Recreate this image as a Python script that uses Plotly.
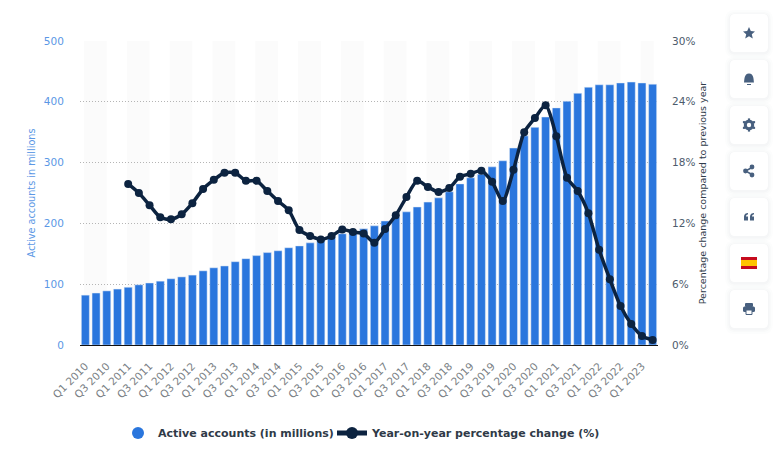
import plotly.graph_objects as go

years = list(range(2010, 2024))
quarters = [f"Q{q} {y}" for y in years for q in (1, 2, 3, 4)][:54]
accounts = [82, 85.5, 89, 92, 95, 99, 102, 105, 109, 112, 115, 122, 127, 130, 137, 142, 147, 152, 155, 160,
            163, 168, 173, 178, 183, 187, 191, 196, 204, 210, 219, 227, 235, 242, 252, 265, 275, 281, 293, 303,
            324, 344, 358, 375, 390, 401, 414, 424, 428, 428, 431, 432.5, 431, 429]
yoy = [None, None, None, None, 15.9, 15.0, 13.8, 12.6, 12.4, 12.9, 14.0, 15.4, 16.3, 17.0, 17.0, 16.2, 16.2, 15.2,
       14.2, 13.3, 11.35, 10.76, 10.4, 10.76, 11.4, 11.15, 11.0, 10.1, 11.45, 12.8, 14.6, 16.2, 15.6, 15.1, 15.5,
       16.6, 16.9, 17.2, 16.1, 14.2, 17.3, 21.0, 22.4, 23.65, 20.6, 16.5, 15.2, 13.0, 9.4, 6.5, 3.85, 2.07, 0.89, 0.5]
tick_labels = quarters[::2]
left_ticks = [0, 100, 200, 300, 400, 500]
right_ticks = [0, 6, 12, 18, 24, 30]

W, H = 778, 460
ML, MR, MT, MB = 80, 120, 41, 115
BLUE, NAVY = "#2a76dd", "#0c2340"

fig = go.Figure()
fig.add_bar(x=quarters, y=accounts, name="Active accounts (in millions)", marker_color=BLUE,
            width=0.75, showlegend=False, yaxis="y")
fig.add_scatter(x=[None], y=[None], mode="markers", name="Active accounts (in millions)",
                marker=dict(color=BLUE, size=13, symbol="circle"), legend="legend")
fig.add_scatter(x=quarters, y=yoy, mode="lines+markers", name="Year-on-year percentage change (%)", yaxis="y2",
                line=dict(color=NAVY, width=3.5, shape="spline", smoothing=0.7),
                marker=dict(color=NAVY, size=8), connectgaps=False, legend="legend2")

def fx(x): return (x - ML) / (W - ML - MR)
def fy(y): return 1 - (y - MT) / (H - MT - MB)

def pshape(d, **kw):
    fig.add_shape(type="path", path=d, xref="paper", yref="paper", layer="above", **kw)

def pth(cmds):
    out = []
    for c in cmds:
        if isinstance(c, str):
            out.append(c)
        else:
            out.append(f"{fx(c[0]):.5f},{fy(c[1]):.5f}")
    return " ".join(out)

def rrect(x0, y0, x1, y1, r):
    return pth(["M", (x0 + r, y0), "L", (x1 - r, y0), "Q", (x1, y0), (x1, y0 + r), "L", (x1, y1 - r), "Q", (x1, y1), (x1 - r, y1),
                "L", (x0 + r, y1), "Q", (x0, y1), (x0, y1 - r), "L", (x0, y0 + r), "Q", (x0, y0), (x0 + r, y0), "Z"])

# alternating background bands
for k in range(0, 54, 4):
    fig.add_shape(type="rect", xref="x", yref="paper", x0=k - 0.125, x1=min(k + 2, 53.1), y0=0, y1=1,
                  fillcolor="#fbfbfb", line_width=0, layer="below")

# side toolbar
ICON = "#48607f"
tops = [14, 60, 106, 152, 198, 244, 290]
for t in tops:
    for grow, op in ((5, 0.012), (3, 0.016), (1.5, 0.02)):
        pshape(rrect(730 - grow, t - grow + 1, 768 + grow, t + 38 + grow + 1, 5 + grow), fillcolor=f"rgba(40,60,90,{op})", line_width=0)
    pshape(rrect(730, t, 768, t + 38, 5), fillcolor="white", line_width=0)

cx = 749
c = tops[0] + 19
star = [(0, -6), (1.8, -2), (6, -1.6), (2.8, 1.2), (3.8, 5.5), (0, 3.2), (-3.8, 5.5), (-2.8, 1.2), (-6, -1.6), (-1.8, -2)]
star_cmds = ["M", (cx + star[0][0], c + star[0][1])]
for a, b in star[1:]:
    star_cmds += ["L", (cx + a, c + b)]
pshape(pth(star_cmds + ["Z"]), fillcolor=ICON, line_width=0)

c = tops[1] + 19
pshape(pth(["M", (cx - 5, c + 3.5), "C", (cx - 4.5, c + 1), (cx - 5, c - 5.5), (cx, c - 5.5), "C", (cx + 5, c - 5.5), (cx + 4.5, c + 1), (cx + 5, c + 3.5), "Z"]), fillcolor=ICON, line_width=0)
pshape(pth(["M", (cx - 2, c + 5), "L", (cx + 2, c + 5), "L", (cx + 2, c + 6), "L", (cx - 2, c + 6), "Z"]), fillcolor=ICON, line_width=0)

c = tops[2] + 19
pshape(pth(["M", (cx - 3.7, c), "C", (cx - 3.7, c - 5), (cx + 3.7, c - 5), (cx + 3.7, c), "C", (cx + 3.7, c + 5), (cx - 3.7, c + 5), (cx - 3.7, c), "Z"]),
       fillcolor="white", line=dict(color=ICON, width=3))
for a, b in [(0, -5.5), (0, 5.5), (-5, -2.8), (5, -2.8), (-5, 2.8), (5, 2.8)]:
    pshape(pth(["M", (cx + a - 1.1, c + b - 1.1), "L", (cx + a + 1.1, c + b - 1.1), "L", (cx + a + 1.1, c + b + 1.1), "L", (cx + a - 1.1, c + b + 1.1), "Z"]), fillcolor=ICON, line_width=0)

c = tops[3] + 19
pshape(pth(["M", (cx + 3, c - 3.5), "L", (cx - 3.5, c), "L", (cx + 3, c + 3.5)]), line=dict(color=ICON, width=1.5))
for a, b, r in [(3, -4, 2.4), (-3.5, 0, 2.4), (3, 4, 2.4)]:
    fig.add_shape(type="circle", xref="paper", yref="paper", x0=fx(cx + a - r), x1=fx(cx + a + r), y0=fy(c + b + r), y1=fy(c + b - r),
                  fillcolor=ICON, line_width=0, layer="above")

c = tops[4] + 19
for a in (-5, 1):
    pshape(pth(["M", (cx + a, c + 3.5), "L", (cx + a, c - 0.5), "C", (cx + a, c - 3), (cx + a + 2, c - 4), (cx + a + 4, c - 4), "L", (cx + a + 4, c - 2.5),
                "C", (cx + a + 3, c - 2.5), (cx + a + 2, c - 2), (cx + a + 2, c - 0.5), "L", (cx + a + 4, c - 0.5), "L", (cx + a + 4, c + 3.5), "Z"]),
           fillcolor=ICON, line_width=0)

c = tops[5] + 19
for y0, y1, col in [(-6, -3, "#c60b1e"), (-3, 3, "#ffc400"), (3, 6, "#c60b1e")]:
    pshape(pth(["M", (cx - 8, c + y0), "L", (cx + 8, c + y0), "L", (cx + 8, c + y1), "L", (cx - 8, c + y1), "Z"]), fillcolor=col, line_width=0)

c = tops[6] + 19
pshape(rrect(cx - 6, c - 2.5, cx + 6, c + 3, 1.5), fillcolor=ICON, line_width=0)
pshape(rrect(cx - 4, c - 6, cx + 4, c - 2, 1), fillcolor=ICON, line_width=0)
pshape(pth(["M", (cx - 3, c + 1), "L", (cx + 3, c + 1), "L", (cx + 3, c + 5.5), "L", (cx - 3, c + 5.5), "Z"]), fillcolor="white", line=dict(color=ICON, width=1))

FONT = "DejaVu Sans"
CLEAR = "rgba(0,0,0,0)"
legend_font = dict(size=11, color="#2f3a47", weight=600)
fig.update_layout(
    width=W, height=H, autosize=False,
    margin=dict(l=ML, r=MR, t=MT, b=MB, pad=0),
    paper_bgcolor="white", plot_bgcolor=CLEAR,
    font=dict(family=FONT, size=10, color="#5c6672"),
    xaxis=dict(type="category", categoryorder="array", categoryarray=quarters, tickmode="array",
               tickvals=tick_labels, ticktext=tick_labels, tickangle=-45, range=[-0.5, 53.5],
               showgrid=False, showline=True, linecolor="#111111", linewidth=1, ticks="outside", ticklen=10, tickcolor=CLEAR,
               tickfont=dict(size=10.5, color="#7a7f85"), automargin=False),
    yaxis=dict(range=[0, 500], tickvals=left_ticks, showgrid=True, griddash="1px,2px", gridcolor="#b5b5b5", gridwidth=1,
               zeroline=False, tickfont=dict(size=10.5, color="#5b97e5"), ticks="outside", ticklen=13, tickcolor=CLEAR, automargin=False,
               title=dict(text="Active accounts in millions", font=dict(size=9.7, color="#5b97e5"), standoff=6)),
    yaxis2=dict(range=[0, 30], tickvals=right_ticks, ticktext=[f"{v}%" for v in right_ticks], overlaying="y", side="right",
                showgrid=False, zeroline=False, tickfont=dict(size=10.5, color="#4d5b6c"), ticks="outside", ticklen=11, tickcolor=CLEAR,
                automargin=False,
                title=dict(text="Percentage change compared to previous year", font=dict(size=9.5, color="#2f3b4a"), standoff=4)),
    legend=dict(orientation="h", x=fx(118), xanchor="left", y=fy(433), yanchor="middle", bgcolor=CLEAR,
                font=legend_font, itemsizing="constant", itemwidth=30),
    legend2=dict(orientation="h", x=fx(332), xanchor="left", y=fy(433), yanchor="middle", bgcolor=CLEAR,
                 font=legend_font, itemsizing="constant", itemwidth=30),
)

fig.write_html("out.html", config=dict(displayModeBar=False),
               post_script="document.body.style.margin='0';document.body.style.overflow='hidden';")
